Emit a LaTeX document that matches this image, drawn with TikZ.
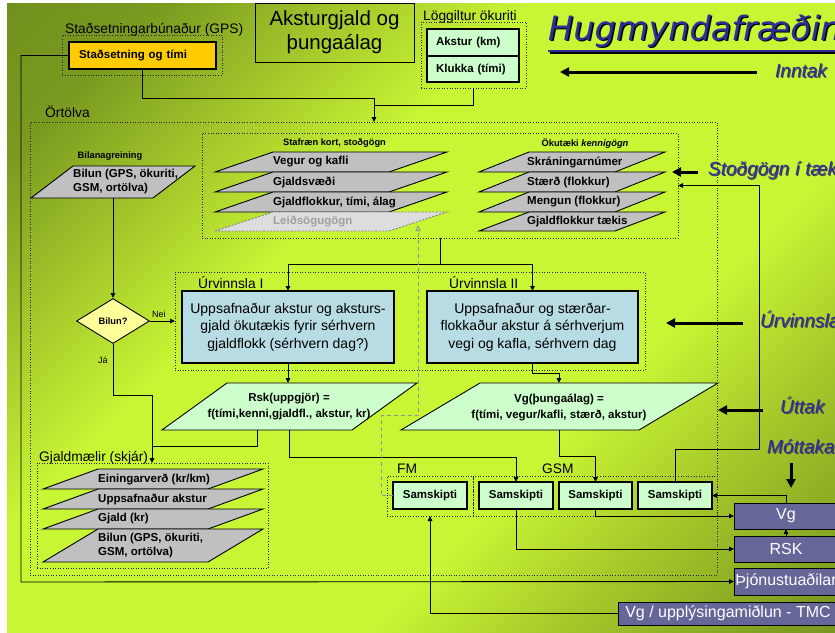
\documentclass[tikz,border=0pt]{standalone}
\usepackage{fontspec}
\setmainfont{Liberation Sans}[ItalicFont={Liberation Sans Italic}, BoldItalicFont={Liberation Sans Bold Italic}]
\newfontfamily\titlefont{DejaVu Sans Oblique}
\newfontfamily\blueit{Liberation Sans Italic}
\usetikzlibrary{arrows.meta,calc,shapes.geometric}
\definecolor{bgA}{HTML}{5E7C18}
\definecolor{bgB}{HTML}{7A9A20}
\definecolor{bgC}{HTML}{A8CC2C}
\definecolor{bgD}{HTML}{C8F534}
\definecolor{bgE}{HTML}{A6C82A}
\definecolor{bgF}{HTML}{7E9D21}
\definecolor{bgG}{HTML}{66861B}
\pgfdeclarehorizontalshading{bgshade}{100bp}{color(0bp)=(bgA); color(22bp)=(bgB); color(32bp)=(bgC); color(40bp)=(bgD); color(63bp)=(bgD); color(72bp)=(bgE); color(83bp)=(bgF); color(100bp)=(bgG)}
\definecolor{cYellow}{HTML}{FFCC00}
\definecolor{cGreen}{HTML}{CCFFCC}
\definecolor{cBlue}{HTML}{B8DCE3}
\definecolor{cGray}{HTML}{C0C0C0}
\definecolor{cLgray}{HTML}{DDDDDD}
\definecolor{cDia}{HTML}{FFFF99}
\definecolor{cPurple}{HTML}{666699}
\definecolor{cTblue}{HTML}{2E2E96}
\definecolor{cLtext}{HTML}{A0A0A0}
\newcommand\rectnode[7]{\node[inner sep=0pt, outer sep=0pt, anchor=north west, minimum width={#5-#3}, minimum height={#6-#4}, #1] (#2) at (#3,#4) {#7};}
\newcommand\mypgram[6]{\path[#1] (#2,#4) -- ({#2+#5},#3) -- ({#2+#5+#6},#3) -- ({#2+#6},#4) -- cycle;}
\begin{document}
\begin{tikzpicture}[x=1pt,y=-1pt,
  conn/.style={line width=0.9pt, draw=black, -{Triangle[length=5pt,width=4.5pt]}},
  plainconn/.style={line width=0.9pt, draw=black},
  dashconn/.style={line width=0.9pt, draw=gray!85, dash pattern=on 4pt off 3pt, -{Triangle[open, length=6pt, width=5pt]}},
  dotbox/.style={draw=black!85, dotted, line width=0.6pt},
  bigarr/.style={line width=3pt, -{Triangle[length=9pt,width=9pt]}},
  lbl/.style={font=\fontsize{13.8}{16}\selectfont, inner sep=0pt},
  smallb/.style={font=\bfseries\fontsize{9.3}{11}\selectfont, inner sep=0pt},
  bt/.style={font=\bfseries\fontsize{11.5}{14}\selectfont},
  bluelbl/.style={font=\blueit\fontsize{19}{21}\selectfont, text=cTblue, inner sep=0pt, anchor=base west},
  blueshadow/.style={font=\blueit\fontsize{19}{21}\selectfont, text=black!70, inner sep=0pt, anchor=base west},
  para/.style={draw=black, line width=0.9pt, fill=cGray},
  gbox/.style={draw=black, line width=1.1pt, fill=cGreen, inner sep=0pt, bt},
  pbox/.style={draw=black, line width=0.7pt, fill=cPurple, text=white, inner sep=0pt, font=\fontsize{16}{18}\selectfont},
  rowtxt/.style={bt, anchor=west, inner sep=0pt, align=left},
  boxtxt/.style={draw=black, line width=1.1pt, fill=cBlue, align=center, font=\fontsize{14}{17.5}\selectfont}
]
\useasboundingbox (0,0) rectangle (835,632);
\clip (0,0) rectangle (835,632);
\fill[white] (0,0) rectangle (835,632);
\shade[shading=bgshade, shading angle=-45] (7,3) rectangle (835,632);

% ---------- top row
\rectnode{draw=black, line width=0.9pt, align=center, font=\fontsize{20.5}{24}\selectfont}{akst}{255}{3}{414}{62}{Aksturgjald og\\þungaálag}

\node[lbl, anchor=base west] (gpslbl) at (65,33) {Staðsetningarbúnaður (GPS)};
\rectnode{dotbox}{gpsgrp}{62}{35}{222}{75}{}
\rectnode{draw=black, line width=1.1pt, fill=cYellow, bt, text width=127pt, inner xsep=10pt, align=left}{gps}{69}{42}{216}{69}{Staðsetning og tími}

\node[lbl, anchor=base west] (logglbl) at (423,20) {Löggiltur ökuriti};
\rectnode{dotbox}{logg}{421}{22}{526}{88}{}
\rectnode{gbox, text width=74pt, inner xsep=9pt, align=left}{akstur}{427}{29}{519}{56}{Akstur (km)}
\rectnode{gbox, text width=74pt, inner xsep=9pt, align=left}{klukka}{427}{56}{519}{82}{Klukka (tími)}

% title
\node[anchor=base west, inner sep=0pt, text=black, font=\titlefont\fontsize{33.5}{36}\selectfont] (titlesh) at (549.5,41.5) {Hugmyndafræðin};
\node[anchor=base west, inner sep=0pt, text=cTblue, font=\titlefont\fontsize{33.5}{36}\selectfont] (title) at (548,40) {Hugmyndafræðin};
\draw[line width=2.6pt, black] (549.5,52.5) -- (840,52.5);
\draw[line width=2.6pt, cTblue] (548,51) -- (840,51);

% ---------- Ortolva
\node[lbl, anchor=base west] (ortlbl) at (45,117) {Örtölva};
\rectnode{dotbox}{ortolva}{30}{122}{717}{575}{}

% Stafraen kort
\rectnode{dotbox}{stafgrp}{202}{133}{678}{238}{}
\node[smallb] (staflbl) at (334.5,143) {Stafræn kort, stoðgögn};
\node[smallb] (okulbl) at (585,143) {Ökutæki \textit{kennigögn}};

\mypgram{para}{215}{152}{172}{58}{174}
\node[rowtxt] (vegur) at (273,162) {Vegur og kafli};
\mypgram{para}{215}{172}{192}{58}{174}
\node[rowtxt] (gjsv) at (273,182) {Gjaldsvæði};
\mypgram{para}{215}{192}{212}{58}{174}
\node[rowtxt] (gjfl) at (273,202) {Gjaldflokkur, tími, álag};
\mypgram{para, fill=cLgray, draw=gray, dash pattern=on 2pt off 1.5pt}{215}{212}{231}{58}{174}
\node[rowtxt, text=cLtext] (leid) at (273,221.5) {Leiðsögugögn};

\mypgram{para}{479}{152}{172}{50}{136}
\node[rowtxt] (skr) at (527,162) {Skráningarnúmer};
\mypgram{para}{479}{172}{192}{50}{136}
\node[rowtxt] (staerd) at (527,182) {Stærð (flokkur)};
\mypgram{para}{479}{192}{212}{50}{136}
\node[rowtxt] (meng) at (527,202) {Mengun (flokkur)};
\mypgram{para}{479}{212}{231}{50}{136}
\node[rowtxt] (gjt) at (527,221.5) {Gjaldflokkur tækis};

% Bilanagreining
\node[smallb] (bilanalbl) at (110,156) {Bilanagreining};
\mypgram{para}{31}{166}{198}{42}{122}
\node[rowtxt] (bilun) at (73,182) {Bilun (GPS, ökuriti,\\GSM, ortölva)};
\coordinate (bilunS) at (113,198);

\node[diamond, draw=black, line width=0.9pt, fill=cDia, minimum width=73pt, minimum height=45pt, smallb] (dia) at (113,321) {Bilun?};
\node[inner sep=0pt, anchor=base west, font=\fontsize{9}{10}\selectfont] (nei) at (152,317) {Nei};
\node[inner sep=0pt, anchor=base west, font=\fontsize{9}{10}\selectfont] (ja) at (98,363) {Já};

% Urvinnsla
\rectnode{dotbox}{urv}{175}{272}{645}{370}{}
\node[lbl, anchor=base west] (urv1lbl) at (198,288) {Úrvinnsla I};
\node[lbl, anchor=base west] (urv2lbl) at (449,288) {Úrvinnsla II};
\rectnode{boxtxt}{box1}{182}{291}{394}{363}{Uppsafnaður akstur og aksturs-\\gjald ökutækis fyrir sérhvern\\gjaldflokk (sérhvern dag?)}
\rectnode{boxtxt}{box2}{427}{291}{638}{363}{Uppsafnaður og stærðar-\\flokkaður akstur á sérhverjum\\vegi og kafla, sérhvern dag}

% outputs
\mypgram{para, fill=cGreen}{162}{383}{430}{65}{190}
\node[bt, align=center, inner sep=0pt, font=\bfseries\fontsize{11.5}{16}\selectfont] (rsk) at (289,407) {Rsk(uppgjör) =\\f(tími,kenni,gjaldfl., akstur, kr)};
\mypgram{para, fill=cGreen}{401}{383}{430}{79}{238}
\node[bt, align=center, inner sep=0pt, font=\bfseries\fontsize{11.5}{16}\selectfont] (vgp) at (559,407) {Vg(þungaálag) =\\f(tími, vegur/kafli, stærð, akstur)};
\coordinate (rskT) at (288,383);
\coordinate (rskB1) at (257,430);
\coordinate (rskB2) at (289,430);
\coordinate (vgpT) at (559,383);
\coordinate (vgpB) at (559,430);

% Gjaldmaelir
\node[lbl, anchor=base west] (gjlbl) at (39,461) {Gjaldmælir (skjár)};
\rectnode{dotbox}{gjgrp}{37}{463}{268}{568}{}
\mypgram{para}{43}{469}{489}{55}{165}
\node[rowtxt] (eining) at (98,479) {Einingarverð (kr/km)};
\mypgram{para}{43}{489}{509}{55}{165}
\node[rowtxt] (uppsaf) at (98,499) {Uppsafnaður akstur};
\mypgram{para}{43}{509}{529}{55}{165}
\node[rowtxt] (gjald) at (98,519) {Gjald (kr)};
\mypgram{para}{43}{529}{562}{55}{165}
\node[rowtxt] (bilun2) at (98,545.5) {Bilun (GPS, ökuriti,\\GSM, ortölva)};

% FM / GSM
\node[lbl, anchor=base west] (fmlbl) at (397,473) {FM};
\node[lbl, anchor=base west] (gsmlbl) at (542,473) {GSM};
\rectnode{dotbox}{fmgrp}{387}{476}{473}{516}{}
\rectnode{dotbox}{gsmgrp}{473}{476}{717}{516}{}
\rectnode{gbox}{s1}{393}{482}{467}{509}{Samskipti}
\rectnode{gbox}{s2}{479}{482}{553}{509}{Samskipti}
\rectnode{gbox}{s3}{559}{482}{632}{509}{Samskipti}
\rectnode{gbox}{s4}{638}{482}{712}{509}{Samskipti}

% purple boxes
\rectnode{pbox}{vgbox}{734}{503}{838}{529}{Vg}
\rectnode{pbox}{rskbox}{734}{536}{838}{562}{RSK}
\rectnode{pbox, inner xsep=1pt}{thj}{734}{568}{838}{595}{Þjónustuaðilar}
\rectnode{pbox}{tmc}{618}{602}{838}{625}{Vg / upplýsingamiðlun - TMC}

% ---------- connectors
\coordinate (j1) at (374,98);
\draw[conn] (gps.south) |- (j1) -- (j1 |- ortolva.north);
\draw[plainconn] (logg.south) |- (374,105);
\draw[conn] (gps.west) -| (21,582) -- (thj.west);
\draw[conn] (bilunS) -- (dia.north);
\draw[conn] (dia.east) -- (dia.east -| urv.west);
\coordinate (j6) at (152,395);
\draw[conn] (dia.south) |- (j6) -- (j6 |- gjgrp.north);
\coordinate (j7) at (440,264);
\draw[plainconn] (stafgrp.south -| j7) -- (j7);
\draw[conn] (j7) -| (box1.north);
\draw[conn] (j7) -| (box2.north);
\draw[conn] (box1.south) -- (box1.south |- rskT);
\draw[conn] (box2.south) -- ++(0,10) -| (vgpT);
\draw[plainconn] (rskB1) |- (152,446);
\draw[conn] (rskB2) -- ++(0,27) -| (s2.north);
\draw[conn] (vgpB) -- ++(0,26) -| (s3.north);
\coordinate (j13) at (759,449);
\draw[conn] (s4.north) |- (j13) |- (stafgrp.east);
\draw[conn] (vgbox.north) |- (s4.east);
\draw[conn] (s3.south) |- (vgbox.west);
\draw[conn] (s2.south) |- (rskbox.west);
\draw[conn] (rskbox.north) -- (vgbox.south);
\draw[conn] (tmc.west) -| (s1.south |- fmgrp.south);
\coordinate (d1) at (381,415);
\coordinate (d2) at (418,225);
\draw[dashconn] (s1.west) -| (d1) -- (d1 -| d2) -- (d2);

% ---------- side labels with thick arrows
\coordinate (inA) at (757,72); \coordinate (inB) at (560,72);
\draw[bigarr] (inA) -- (inB);
\node[blueshadow] (inntaksh) at (776,78) {Inntak};
\node[bluelbl] (inntak) at (775,77) {Inntak};
\coordinate (stA) at (698,172); \coordinate (stB) at (672,172);
\draw[bigarr] (stA) -- (stB);
\node[blueshadow] (stodsh) at (709,176) {Stoðgögn í tæki};
\node[bluelbl] (stod) at (708,175) {Stoðgögn í tæki};
\coordinate (urA) at (743,323); \coordinate (urB) at (666,323);
\draw[bigarr] (urA) -- (urB);
\node[blueshadow] (urvlsh) at (761,328) {Úrvinnsla};
\node[bluelbl] (urvl) at (760,327) {Úrvinnsla};
\coordinate (utA) at (763,410); \coordinate (utB) at (718,410);
\draw[bigarr] (utA) -- (utB);
\node[blueshadow] (uttaksh) at (781,414) {Úttak};
\node[bluelbl] (uttak) at (780,413) {Úttak};
\node[blueshadow] (mottsh) at (768,454) {Móttaka};
\node[bluelbl] (mott) at (767,453) {Móttaka};
\coordinate (moA) at (791,463); \coordinate (moB) at (791,488);
\draw[bigarr] (moA) -- (moB);
\end{tikzpicture}
\end{document}
